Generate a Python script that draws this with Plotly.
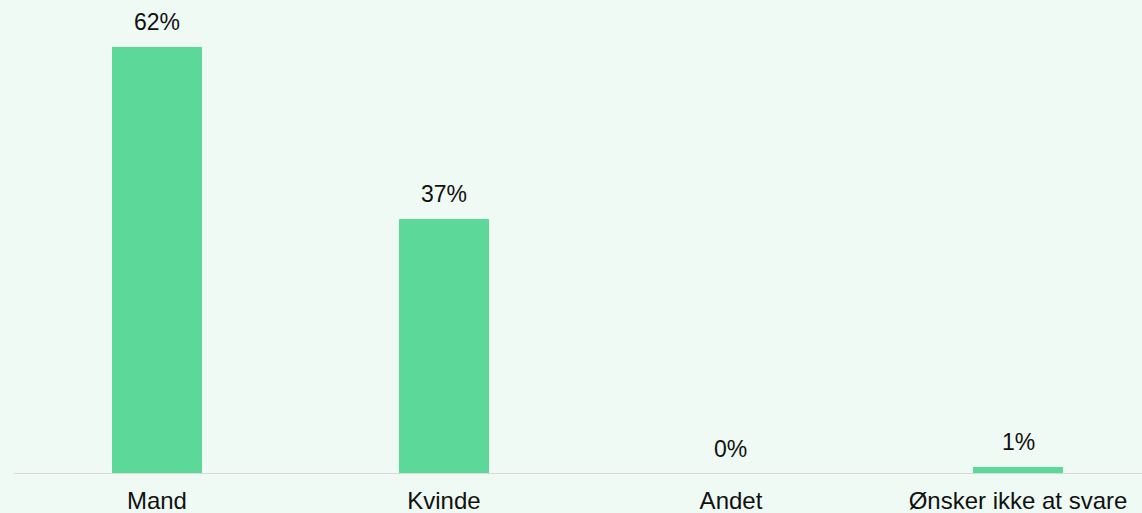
import plotly.graph_objects as go

categories = ["Mand", "Kvinde", "Andet", "Ønsker ikke at svare"]
values = [62, 37, 0, 1]
labels = ["62%", "37%", "0%", "1%"]

BG = "#EEFAF3"
BAR = "#5CD898"
FONT = "Liberation Sans, Arial, sans-serif"

fig = go.Figure()
fig.add_trace(go.Bar(
    x=categories,
    y=values,
    marker=dict(color=BAR, line=dict(width=0)),
    width=0.314,
    hoverinfo="skip",
))

for cat, v, lab in zip(categories, values, labels):
    fig.add_annotation(
        x=cat, y=v, text=lab, showarrow=False,
        yanchor="bottom", yshift=10,
        font=dict(family=FONT, size=23, color="#111111"),
    )

fig.update_layout(
    width=1142, height=513,
    margin=dict(l=14, r=0, t=0, b=39, autoexpand=False),
    paper_bgcolor=BG, plot_bgcolor=BG,
    showlegend=False,
    bargap=0,
    xaxis=dict(
        range=[-0.498, 3.432],
        automargin=False,
        showgrid=False, zeroline=False,
        showline=False,
        ticks="", ticklabelstandoff=10,
        tickfont=dict(family=FONT, size=24, color="#111111"),
    ),
    yaxis=dict(
        range=[0, 68.8], visible=False, showgrid=False, zeroline=False,
        automargin=False,
    ),
    shapes=[dict(
        type="line", xref="paper", yref="y", x0=0, x1=1, y0=0, y1=0,
        line=dict(color="#D9D9D9", width=2), layer="above",
    )],
)

fig.write_html("out.html")
